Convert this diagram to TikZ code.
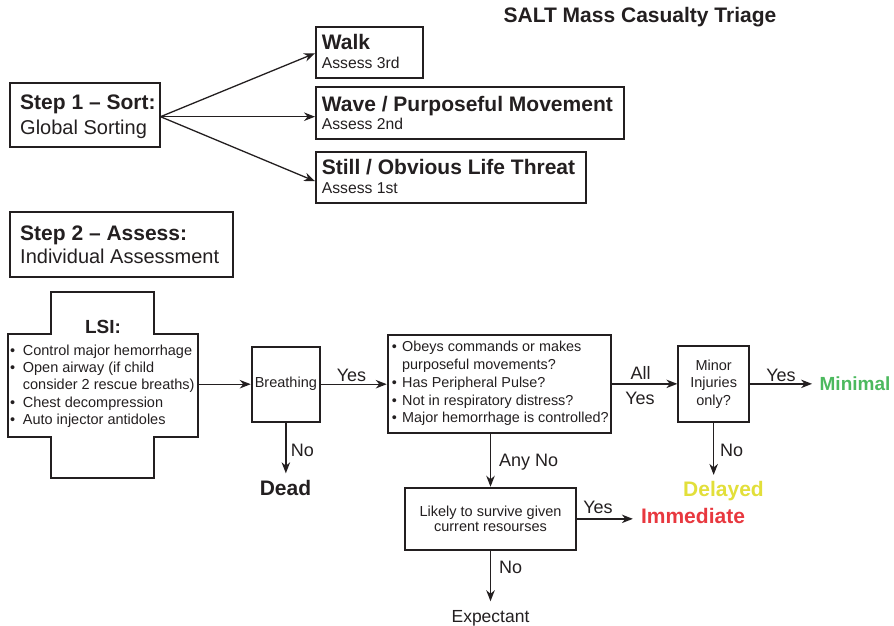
\documentclass[tikz,border=0pt]{standalone}
\usepackage{fontspec}
\setmainfont{Liberation Sans}
\usetikzlibrary{arrows.meta,calc}
\definecolor{ink}{HTML}{231F20}
\definecolor{mingreen}{HTML}{4CB95E}
\definecolor{delyellow}{HTML}{E2DF3A}
\definecolor{immred}{HTML}{E8383F}
\begin{document}
\begin{tikzpicture}[x=1pt,y=-1pt,
  box/.style={draw=ink, line width=1.9pt, rectangle, inner sep=0pt, text=ink},
  txt/.style={inner sep=0pt, text=ink},
  arr/.style={draw=ink, line width=1.3pt, -{Stealth[length=11pt,width=8.5pt,inset=3.5pt]}},
  hb/.style={txt, anchor=base west, font=\bfseries\fontsize{21}{24}\selectfont},
  hr/.style={txt, anchor=base west, font=\fontsize{20}{24}\selectfont},
  hs/.style={txt, anchor=base west, font=\fontsize{15.7}{18}\selectfont},
  lsl/.style={txt, anchor=base west, font=\fontsize{14.5}{17.4}\selectfont},
  qsl/.style={txt, anchor=base west, font=\fontsize{14.4}{17.4}\selectfont},
  sm/.style={font=\fontsize{14.5}{17.4}\selectfont},
  lab/.style={txt, font=\fontsize{18}{20}\selectfont},
  outc/.style={txt, anchor=base, font=\bfseries\fontsize{21}{24}\selectfont}]
\useasboundingbox (0,0) rectangle (894,626);

% title
\node[txt, anchor=base, font=\bfseries\fontsize{21}{24}\selectfont] (title) at (640,22.7) {SALT Mass Casualty Triage};

% Step 1
\node[box, minimum width=149.7, minimum height=63.4] (s1) at (85.2,115) {};
\node[hb] (s1a) at (20,109.3) {Step 1 \textendash{} Sort:};
\node[hr] (s1b) at (20,134) {Global Sorting};
\coordinate (s1o) at (160.5,116.7);

% sort boxes
\node[box, minimum width=106.7, minimum height=51] (walk) at (369.35,52.2) {};
\node[hb] (walka) at (321.7,49.3) {Walk};
\node[hs] (walkb) at (321.7,68.3) {Assess 3rd};

\node[box, minimum width=308, minimum height=51.7] (wave) at (470,113.15) {};
\node[hb] (wavea) at (321.7,111) {Wave / Purposeful Movement};
\node[hs] (waveb) at (321.7,129.3) {Assess 2nd};

\node[box, minimum width=270, minimum height=51.6] (still) at (451,177.5) {};
\node[hb] (stilla) at (321.7,174.3) {Still / Obvious Life Threat};
\node[hs] (stillb) at (321.7,193.3) {Assess 1st};

\draw[arr] (s1o) -- ($(walk.north west)!0.52!(walk.south west)$);
\draw[arr] (s1o) -- (wave.west |- s1o);
\draw[arr] (s1o) -- ($(still.north west)!0.57!(still.south west)$);

% Step 2
\node[box, minimum width=222.4, minimum height=65] (s2) at (121.5,244.2) {};
\node[hb] (s2a) at (20,240) {Step 2 \textendash{} Assess:};
\node[hr] (s2b) at (20,263) {Individual Assessment};

% LSI cross
\draw[ink, line width=1.9pt] (50.7,292.3) -- (154,292.3) -- (154,334.3) -- (198.3,334.3)
  -- (198.3,436.7) -- (154,436.7) -- (154,477.7) -- (50.7,477.7) -- (50.7,436.7)
  -- (8.3,436.7) -- (8.3,334.3) -- (50.7,334.3) -- cycle;
\node[txt, anchor=base, font=\bfseries\fontsize{19}{22}\selectfont] (lsit) at (103,333.3) {LSI:};
\node[lsl] (l1) at (10,355) {\makebox[12.7pt][l]{•}Control major hemorrhage};
\node[lsl] (l2) at (10,372.4) {\makebox[12.7pt][l]{•}Open airway (if child};
\node[lsl] (l3) at (22.7,389.8) {consider 2 rescue breaths)};
\node[lsl] (l4) at (10,407.2) {\makebox[12.7pt][l]{•}Chest decompression};
\node[lsl] (l5) at (10,424.6) {\makebox[12.7pt][l]{•}Auto injector antidoles};
\coordinate (lsio) at (198.3,384.2);

% Breathing
\node[box, sm, minimum width=68.3, minimum height=75] (br) at (285.85,384.2) {Breathing};
\draw[arr] (lsio) -- (br.west);

% Questions
\node[box, minimum width=223.3, minimum height=97.7] (q) at (499.35,383.85) {};
\node[qsl] (q1) at (391.7,351.7) {\makebox[10.3pt][l]{•}Obeys commands or makes};
\node[qsl] (q2) at (402,369.5) {purposeful movements?};
\node[qsl] (q3) at (391.7,387.3) {\makebox[10.3pt][l]{•}Has Peripheral Pulse?};
\node[qsl] (q4) at (391.7,405.1) {\makebox[10.3pt][l]{•}Not in respiratory distress?};
\node[qsl] (q5) at (391.7,422.9) {\makebox[10.3pt][l]{•}Major hemorrhage is controlled?};

\draw[arr] (br.east) -- (br.east -| q.west);
\node[lab, anchor=base] (yes1) at (351.5,381.7) {Yes};

% Dead
\node[outc] (dead) at (285.5,495.7) {Dead};
\draw[arr, shorten >=7pt] (br.south) -- (br.south |- dead.north);
\node[lab, anchor=base west] (no1) at (290.7,456) {No};

% Minor injuries
\node[box, sm, align=center, minimum width=70.7, minimum height=75.7] (mi) at (713.65,383.85) {Minor\\Injuries\\only?};
\draw[arr] (q.east) -- (q.east -| mi.west);
\node[lab, anchor=base] (all) at (640.5,379.3) {All};
\node[lab, anchor=base] (yes2) at (640,404) {Yes};

\node[outc, text=mingreen, font=\bfseries\fontsize{19}{22}\selectfont] (minimal) at (855,390.7) {Minimal};
\draw[arr, shorten >=7.4pt] (mi.east) -- (mi.east -| minimal.west);
\node[lab, anchor=base] (yes3) at (781,381.7) {Yes};

\node[outc, text=delyellow] (delayed) at (723.5,496) {Delayed};
\draw[arr, shorten >=5.7pt] (mi.south) -- (mi.south |- delayed.north);
\node[lab, anchor=base west] (no2) at (720,456) {No};

% Likely to survive
\node[box, font=\fontsize{14.5}{15.7}\selectfont, align=center, minimum width=171, minimum height=62.3] (lk) at (490.5,518.85) {Likely to survive given\\current resourses};
\draw[arr] (lk.north |- q.south) -- (lk.north);
\node[lab, anchor=base west] (anyno) at (499,466) {Any No};

\node[outc, text=immred] (imm) at (693,523.3) {Immediate};
\draw[arr, shorten >=8pt] (lk.east) -- (lk.east -| imm.west);
\node[lab, anchor=base] (yes4) at (598,513.3) {Yes};

\node[txt, anchor=base, font=\fontsize{17.5}{20}\selectfont] (exp) at (490.5,622) {Expectant};
\draw[arr, shorten >=8.5pt] (lk.south) -- (lk.south |- exp.north);
\node[lab, anchor=base west] (no3) at (499,573.3) {No};
\end{tikzpicture}
\end{document}
